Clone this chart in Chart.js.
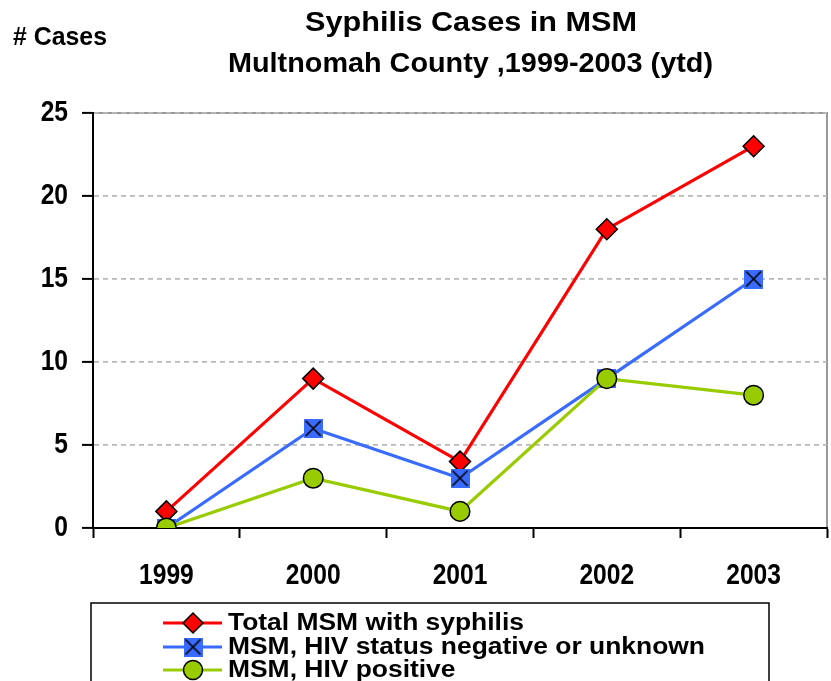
<!DOCTYPE html>
<html>
<head>
<meta charset="utf-8">
<script src="https://cdn.jsdelivr.net/npm/chart.js@4.4.0/dist/chart.umd.min.js"></script>
<style>
  body { margin: 0; background: #fff; }
  #wrap { width: 831px; height: 681px; position: relative; }
</style>
</head>
<body>
<div id="wrap"><canvas id="chart" width="831" height="681"></canvas></div>
<script>
const years = ["1999", "2000", "2001", "2002", "2003"];
const totalMsm = [1, 9, 4, 18, 23];
const hivNegUnknown = [0, 6, 3, 9, 15];
const hivPositive = [0, 3, 1, 9, 8];
const yTicks = [0, 5, 10, 15, 20, 25];
const titleLines = ["Syphilis Cases in MSM", "Multnomah County ,1999-2003 (ytd)"];
const yLabel = "# Cases";

const colors = { red: "#ff0000", blue: "#3a6bff", green: "#99cc00", grid: "#b8b8b8" };
const sans = "'Liberation Sans', Arial, sans-serif";

// the original uses a narrow bold face; squeeze Liberation Sans to match
function drawText(ctx, text, x, y, size, align, opts) {
  ctx.save();
  ctx.font = "bold " + size + "px " + sans;
  const w = ctx.measureText(text).width;
  let sx = opts.scale || 1;
  if (opts.width) sx = opts.width / w;
  const drawn = w * sx;
  let left = x;
  if (align === "center") left = x - drawn / 2;
  else if (align === "right") left = x - drawn;
  ctx.translate(left, y);
  ctx.scale(sx, 1);
  ctx.textAlign = "left";
  ctx.textBaseline = "middle";
  ctx.fillStyle = "#000";
  ctx.fillText(text, 0, 0);
  ctx.restore();
}

function crossSquare() {
  const c = document.createElement("canvas");
  c.width = 19; c.height = 19;
  const g = c.getContext("2d");
  g.fillStyle = colors.blue;
  g.fillRect(0, 0, 19, 19);
  g.strokeStyle = "#000";
  g.lineWidth = 1.6;
  g.beginPath();
  g.moveTo(2, 2); g.lineTo(17, 17);
  g.moveTo(17, 2); g.lineTo(2, 17);
  g.stroke();
  return c;
}
const blueMarker = crossSquare();

const framePlugin = {
  id: "frame",
  beforeDraw(chart) {
    const { ctx, chartArea: a } = chart;
    ctx.save();
    ctx.strokeStyle = "#999";
    ctx.lineWidth = 2;
    ctx.strokeRect(a.left, a.top, a.right - a.left, a.bottom - a.top);
    ctx.restore();
  },
  afterDraw(chart) {
    const ctx = chart.ctx;
    const xs = chart.scales.x, ys = chart.scales.y;

    // tick labels, placed with the chart's own scales
    xs.ticks.forEach((t, i) => {
      drawText(ctx, xs.getLabelForValue(t.value), xs.getPixelForTick(i), 576, 30, "center", { scale: 0.82 });
    });
    ys.ticks.forEach((t) => {
      drawText(ctx, String(t.value), 68, ys.getPixelForValue(t.value), 30, "right", { scale: 0.82 });
    });

    drawText(ctx, titleLines[0], 471, 24, 27, "center", { width: 332 });
    drawText(ctx, titleLines[1], 470.5, 65, 27, "center", { width: 485 });
    drawText(ctx, yLabel, 13, 38, 25, "left", { width: 94 });

    // legend
    ctx.save();
    ctx.strokeStyle = "#000";
    ctx.lineWidth = 1.5;
    ctx.strokeRect(91, 603, 678, 100);
    ctx.restore();
    ctx.save();
    ctx.font = "bold 23px " + sans;
    const legendScale = 477 / ctx.measureText(chart.data.datasets[1].label).width;
    ctx.restore();
    const rows = [623, 647, 670];
    chart.data.datasets.forEach((ds, i) => {
      const y = rows[i];
      ctx.save();
      ctx.strokeStyle = ds.borderColor;
      ctx.lineWidth = 3;
      ctx.beginPath();
      ctx.moveTo(163, y); ctx.lineTo(222, y);
      ctx.stroke();
      const x = 193;
      ctx.lineWidth = 1.5;
      ctx.strokeStyle = "#000";
      ctx.fillStyle = ds.pointBackgroundColor;
      if (ds.pointStyle === "rectRot") {
        ctx.beginPath();
        ctx.moveTo(x, y - 10); ctx.lineTo(x + 10, y); ctx.lineTo(x, y + 10); ctx.lineTo(x - 10, y);
        ctx.closePath(); ctx.fill(); ctx.stroke();
      } else if (ds.pointStyle === "circle") {
        ctx.beginPath();
        ctx.arc(x, y, 9.5, 0, Math.PI * 2);
        ctx.fill(); ctx.stroke();
      } else {
        ctx.drawImage(blueMarker, x - 9.5, y - 9.5);
      }
      ctx.restore();
      drawText(ctx, ds.label, 228, y + 1, 23, "left", { scale: legendScale });
    });
  }
};

new Chart(document.getElementById("chart").getContext("2d"), {
  type: "line",
  data: {
    labels: years,
    datasets: [
      {
        label: "Total MSM with syphilis", data: totalMsm, order: 2,
        borderColor: colors.red, pointBackgroundColor: colors.red, pointBorderColor: "#000",
        pointStyle: "rectRot", pointRadius: 10.5, pointBorderWidth: 1.5, borderWidth: 3.2, tension: 0
      },
      {
        label: "MSM, HIV status negative or unknown", data: hivNegUnknown, order: 1,
        borderColor: colors.blue, pointBackgroundColor: colors.blue,
        pointStyle: blueMarker, pointRadius: 10, borderWidth: 3.2, tension: 0
      },
      {
        label: "MSM, HIV positive", data: hivPositive, order: 0,
        borderColor: colors.green, pointBackgroundColor: colors.green, pointBorderColor: "#000",
        pointStyle: "circle", pointRadius: 9.8, pointBorderWidth: 1.5, borderWidth: 3.2, tension: 0
      }
    ]
  },
  options: {
    responsive: false,
    animation: false,
    layout: { autoPadding: false, padding: { left: 0, right: 4, top: 113, bottom: 0 } },
    plugins: { legend: { display: false }, tooltip: { enabled: false }, title: { display: false } },
    scales: {
      x: {
        offset: true,
        afterFit(scale) { scale.height = 153; },
        grid: { offset: true, drawOnChartArea: false, drawTicks: true, tickLength: 10, tickColor: "#000", tickWidth: 2 },
        border: { display: true, color: "#000", width: 2 },
        ticks: { display: false }
      },
      y: {
        min: 0, max: 25,
        afterFit(scale) { scale.width = 93; },
        afterBuildTicks(scale) { scale.ticks = yTicks.map(v => ({ value: v })); },
        grid: { color: colors.grid, lineWidth: 1.8, tickLength: 11, tickColor: "#000", tickWidth: 2, tickBorderDash: [] },
        border: { display: true, color: "#000", width: 2, dash: [5, 4] },
        ticks: { display: false }
      }
    }
  },
  plugins: [framePlugin]
});
</script>
</body>
</html>
